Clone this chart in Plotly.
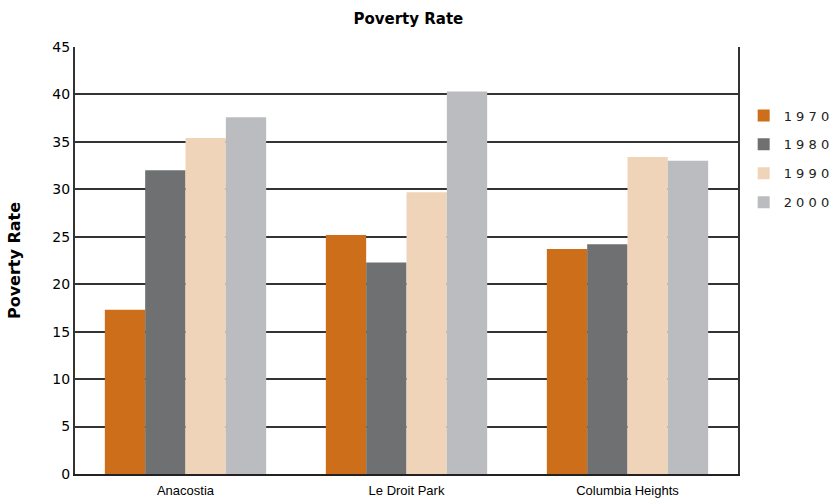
import plotly.graph_objects as go

neighborhoods = ["Anacostia", "Le Droit Park", "Columbia Heights"]
years = ["1970", "1980", "1990", "2000"]
rate_1970 = [17.3, 25.2, 23.7]
rate_1980 = [32.0, 22.3, 24.2]
rate_1990 = [35.4, 29.7, 33.4]
rate_2000 = [37.6, 40.3, 33.0]
y_ticks = [0, 5, 10, 15, 20, 25, 30, 35, 40, 45]

series = [rate_1970, rate_1980, rate_1990, rate_2000]
colors = ["#cd6f1a", "#6f7072", "#efd4b9", "#bbbcc0"]

fig = go.Figure()
for yr, vals, col in zip(years, series, colors):
    fig.add_trace(go.Bar(
        x=neighborhoods, y=vals, name=" ".join(yr),
        marker=dict(color=col, line=dict(width=0)),
        legendgroup=yr,
    ))

fig.update_layout(
    width=830, height=500,
    margin=dict(l=75, r=92, t=47, b=26, autoexpand=False),
    paper_bgcolor="white", plot_bgcolor="white",
    barmode="group", bargap=0.27, bargroupgap=0,
    title=dict(text="<b>Poverty Rate</b>", x=0.492, xanchor="center",
               y=0.962, yanchor="middle",
               font=dict(family="DejaVu Sans", size=15, color="black")),
    legend=dict(xref="container", x=0.896, xanchor="left",
                yref="container", y=0.799, yanchor="top",
                font=dict(family="DejaVu Sans", size=13, color="#222"),
                tracegroupgap=9, itemwidth=30, bgcolor="rgba(0,0,0,0)"),
    xaxis=dict(showline=True, linecolor="#222", linewidth=2, mirror=False,
               tickfont=dict(family="Liberation Sans", size=13, color="black"),
               ticks="outside", ticklen=3, tickcolor="rgba(0,0,0,0)",
               showgrid=False, automargin=False),
    yaxis=dict(range=[0, 45], tickvals=y_ticks, showgrid=True,
               gridcolor="#333", gridwidth=2, zeroline=False,
               showline=True, linecolor="#333", linewidth=2, mirror=True,
               ticks="", ticklen=0, automargin=False,
               tickfont=dict(family="DejaVu Sans", size=14, color="black"),
               title=dict(text="<b>Poverty Rate</b>", standoff=28,
                          font=dict(family="DejaVu Sans", size=16, color="black"))),
)

fig.write_html("out.html")
